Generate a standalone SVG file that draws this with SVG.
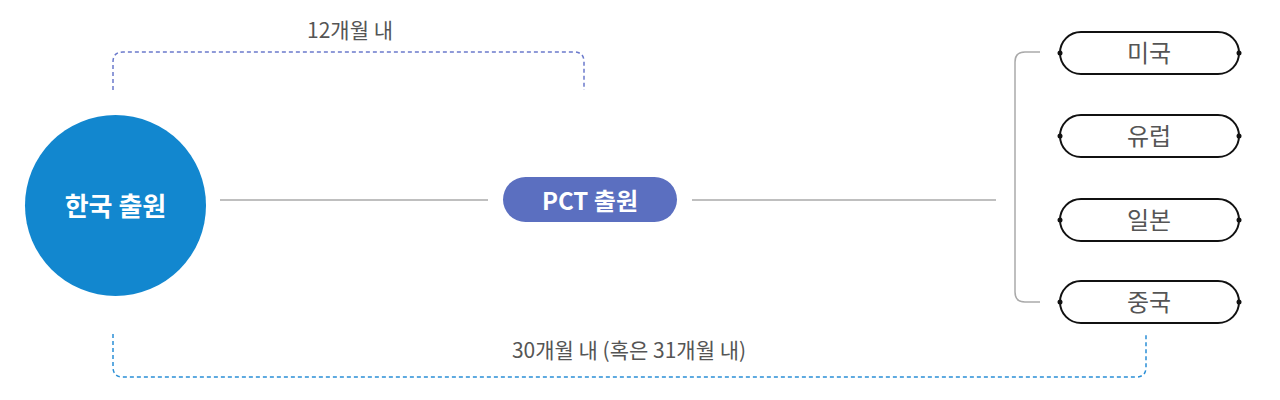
<svg xmlns="http://www.w3.org/2000/svg" width="1280" height="400" viewBox="0 0 1280 400">
<style>
.lbl{font-family:"Noto Sans CJK KR","Noto Sans",sans-serif;fill:#555;text-anchor:middle}
.wht{font-family:"Noto Sans CJK KR","Noto Sans",sans-serif;fill:#fff;font-weight:bold;text-anchor:middle}
.pill{fill:#fff;stroke:#111;stroke-width:2}
.dot{fill:#111}
.gray{fill:none;stroke:#aaa;stroke-width:1.5}
</style>
<rect width="1280" height="400" fill="#fff"/>
<g id="connectors">
<line class="gray" x1="220" y1="200" x2="488" y2="200"/>
<line class="gray" x1="692" y1="200" x2="996" y2="200"/>
<path class="gray" d="M1040 52 H1025 Q1015 52 1015 62 V292 Q1015 302 1025 302 H1040"/>
<path d="M113 90 V62 Q113 52 123 52 H574 Q584 52 584 62 V90" fill="none" stroke="#6b7acc" stroke-width="1.5" stroke-dasharray="4 3"/>
<path d="M113 334 V367 Q113 377 123 377 H1136 Q1146 377 1146 367 V334" fill="none" stroke="#2a8fd6" stroke-width="1.5" stroke-dasharray="4 3"/>
<text class="lbl" x="350" y="38" font-size="21">12개월 내</text>
<text class="lbl" x="629" y="358" font-size="21">30개월 내 (혹은 31개월 내)</text>
</g>
<g id="korea">
<circle cx="115.5" cy="205.5" r="90.5" fill="#1287cf"/>
<text class="wht" x="115.5" y="216" font-size="26">한국 출원</text>
</g>
<g id="pct">
<rect x="503" y="177" width="174" height="45" rx="22.5" fill="#5b6fc0"/>
<text class="wht" x="590" y="210" font-size="24">PCT 출원</text>
</g>
<g id="us">
<rect class="pill" x="1060" y="32" width="179" height="42" rx="21"/>
<circle class="dot" cx="1060" cy="53" r="2.5"/><circle class="dot" cx="1239" cy="53" r="2.5"/>
<text class="lbl" x="1149" y="62" font-size="24">미국</text>
</g>
<g id="eu">
<rect class="pill" x="1060" y="115" width="179" height="42" rx="21"/>
<circle class="dot" cx="1060" cy="136" r="2.5"/><circle class="dot" cx="1239" cy="136" r="2.5"/>
<text class="lbl" x="1149" y="145" font-size="24">유럽</text>
</g>
<g id="jp">
<rect class="pill" x="1060" y="199" width="179" height="42" rx="21"/>
<circle class="dot" cx="1060" cy="220" r="2.5"/><circle class="dot" cx="1239" cy="220" r="2.5"/>
<text class="lbl" x="1149" y="229" font-size="24">일본</text>
</g>
<g id="cn">
<rect class="pill" x="1060" y="281" width="179" height="42" rx="21"/>
<circle class="dot" cx="1060" cy="302" r="2.5"/><circle class="dot" cx="1239" cy="302" r="2.5"/>
<text class="lbl" x="1149" y="311" font-size="24">중국</text>
</g>
</svg>
